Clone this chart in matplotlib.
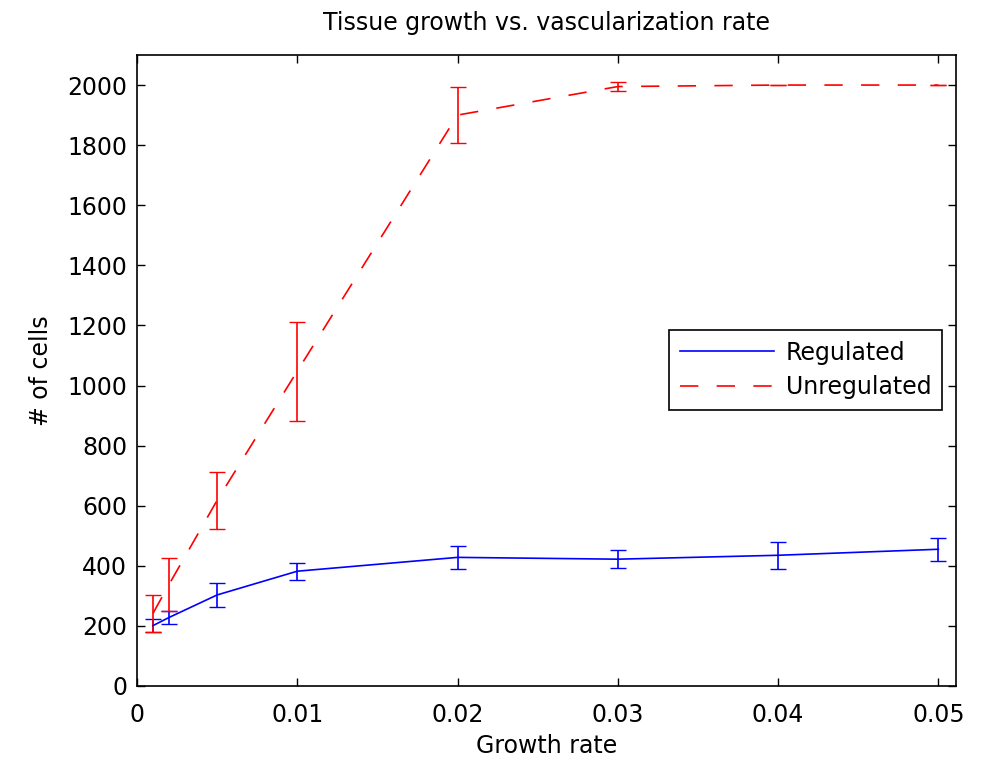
"""
Tissue growth vs. vascularization rate, regulated vs. unregulated.
"""

import matplotlib

matplotlib.use("Agg")
import matplotlib.pyplot as plt

# change the font for all text in the figure
matplotlib.rc("font", family="DejaVu Sans", size=17)

growth_rate = [0.001, 0.002, 0.005, 0.01, 0.02, 0.03, 0.04, 0.05]

regulated = [201, 228, 303, 382, 428, 422, 435, 455]
regulated_err = [21, 21, 40, 28, 38, 29, 45, 38]

unregulated = [242, 338, 618, 1048, 1900, 1995, 2000, 2000]
unregulated_err = [61, 88, 95, 165, 92, 15, 0, 0]

fig = plt.figure(figsize=(9.87, 7.65), dpi=100)
ax = fig.add_axes([0.1388, 0.1033, 0.8298, 0.8248])

ax.errorbar(
    growth_rate,
    regulated,
    yerr=regulated_err,
    color="#0000ff",
    linewidth=1.2,
    elinewidth=1.2,
    capsize=5.5,
    label="Regulated",
)
ax.errorbar(
    growth_rate,
    unregulated,
    yerr=unregulated_err,
    color="#ff0000",
    linewidth=1.2,
    linestyle=(0, (11, 11)),
    elinewidth=1.2,
    capsize=5.5,
    label="Unregulated",
)

ax.set_xlim(0, 0.0511)
ax.set_ylim(0, 2100)
ax.set_xticks([0, 0.01, 0.02, 0.03, 0.04, 0.05])
ax.set_xticklabels(["0", "0.01", "0.02", "0.03", "0.04", "0.05"])
ax.set_yticks(range(0, 2001, 200))
ax.tick_params(direction="in", length=5.5, width=1, top=True, right=True, pad=7)
ax.tick_params(axis="x", pad=12)
for spine in ax.spines.values():
    spine.set_linewidth(1.2)

ax.set_title("Tissue growth vs. vascularization rate", fontsize=17, pad=18)
ax.set_xlabel("Growth rate", labelpad=5)
ax.set_ylabel("# of cells", labelpad=10)

handles, labels = ax.get_legend_handles_labels()
handles = [h[0] for h in handles]
leg = ax.legend(
    handles,
    labels,
    loc="upper right",
    bbox_to_anchor=(0.983, 0.564),
    borderaxespad=0,
    fancybox=False,
    edgecolor="black",
    framealpha=1,
    handlelength=4.0,
    handletextpad=0.5,
    borderpad=0.45,
    labelspacing=0.45,
)
leg.get_frame().set_linewidth(1.2)

fig.savefig("out.png", dpi=100)
